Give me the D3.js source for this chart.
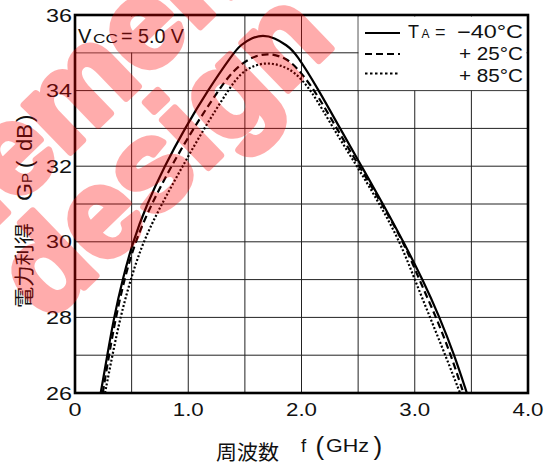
<!DOCTYPE html>
<html>
<head>
<meta charset="utf-8">
<script src="https://cdn.jsdelivr.net/npm/d3@7"></script>
<style>
  html, body { margin: 0; padding: 0; background: #fff; }
  svg { display: block; }
  text { font-family: "Liberation Sans", Arial, Helvetica, sans-serif; fill: #111; }
  text.cjk { font-family: "Noto Sans CJK JP", "Noto Sans CJK SC", sans-serif; }
  .mark text { fill: #ff0000; stroke: #ff0000; stroke-width: 7; stroke-linejoin: round; }
</style>
</head>
<body>
<svg id="chart" width="547" height="468"></svg>
<script>
// Power gain vs. frequency at three ambient temperatures (VCC = 5.0 V)
const freqTicks = [0, 1, 2, 3, 4];
const freqTickLabels = ["0", "1.0", "2.0", "3.0", "4.0"];
const gainTicks = [26, 28, 30, 32, 34, 36];
const freqGrid = [0.5, 1, 1.5, 2, 2.5, 3, 3.5];
const gainGrid = [27, 28, 29, 30, 31, 32, 33, 34, 35];

const tempLabels = ["−40°C", "+ 25°C", "+ 85°C"];

// [frequency GHz, gain dB]
const gainMinus40 = [
  [0.227, 26], [0.285, 27], [0.344, 28], [0.42, 29], [0.51, 30], [0.635, 31],
  [0.79, 32], [0.97, 33], [1.17, 34], [1.40, 35], [1.46, 35.2], [1.56, 35.4],
  [1.66, 35.47], [1.76, 35.4], [1.87, 35.2], [1.95, 35], [2.155, 34], [2.34, 33],
  [2.53, 32], [2.72, 31], [2.90, 30], [3.07, 29], [3.22, 28], [3.35, 27], [3.46, 26]
];
const gainPlus25 = [
  [0.245, 26], [0.30, 27], [0.36, 28], [0.435, 29], [0.53, 30], [0.675, 31],
  [0.85, 32], [1.045, 33], [1.265, 34], [1.40, 34.55], [1.55, 34.88], [1.70, 35.0],
  [1.85, 34.88], [1.95, 34.65], [2.12, 34], [2.31, 33], [2.51, 32], [2.71, 31],
  [2.90, 30], [3.04, 29], [3.19, 28], [3.32, 27], [3.43, 26]
];
const gainPlus85 = [
  [0.265, 26], [0.33, 27], [0.40, 28], [0.49, 29], [0.60, 30], [0.765, 31],
  [0.95, 32], [1.14, 33], [1.35, 34], [1.46, 34.46], [1.58, 34.67], [1.70, 34.74],
  [1.82, 34.67], [1.94, 34.5], [2.09, 34], [2.28, 33], [2.49, 32], [2.69, 31],
  [2.87, 30], [3.00, 29], [3.135, 28], [3.27, 27], [3.40, 26]
];

const seriesData = [gainMinus40, gainPlus25, gainPlus85];
const seriesDash = [null, "7,4", "2,2"];

const svg = d3.select("#chart");
const x = d3.scaleLinear().domain([0, 4]).range([75, 528]);
const y = d3.scaleLinear().domain([26, 36]).range([393, 15]);

function put(parent, str, o) {
  const t = parent.append("text")
    .attr("transform", `translate(${o.x},${o.y})` + (o.rotate ? ` rotate(${o.rotate})` : ""))
    .attr("font-size", o.size)
    .attr("text-anchor", o.anchor || "start")
    .text(str);
  if (o.cjk) t.attr("class", "cjk");
  if (o.bold) t.attr("font-weight", "bold");
  if (o.len) t.attr("textLength", o.len).attr("lengthAdjust", "spacingAndGlyphs");
  return t;
}

// grid
const grid = svg.append("g").attr("stroke", "#222").attr("stroke-width", 1);
grid.selectAll("line.v").data(freqGrid).join("line")
  .attr("x1", d => x(d)).attr("x2", d => x(d))
  .attr("y1", y(36)).attr("y2", y(26));
grid.selectAll("line.h").data(gainGrid).join("line")
  .attr("x1", x(0)).attr("x2", x(4))
  .attr("y1", d => y(d)).attr("y2", d => y(d));

// note boxes (VCC label and legend) blank out the grid behind them
svg.append("rect")
  .attr("x", x(0) + 1.5).attr("y", y(36) + 1.5)
  .attr("width", x(1) - x(0) - 2).attr("height", y(35) - y(36) - 2)
  .attr("fill", "#fff");
svg.append("rect")
  .attr("x", x(2.5) + 0.5).attr("y", y(36) + 1.5)
  .attr("width", x(4) - x(2.5) - 2).attr("height", y(34) - y(36) - 2)
  .attr("fill", "#fff");

// curves
svg.append("clipPath").attr("id", "plotClip").append("rect")
  .attr("x", x(0)).attr("y", y(36)).attr("width", x(4) - x(0)).attr("height", y(26) - y(36));
const line = d3.line().x(d => x(d[0])).y(d => y(d[1])).curve(d3.curveBasis);
svg.append("g").attr("clip-path", "url(#plotClip)")
  .selectAll("path").data(seriesData).join("path")
  .attr("d", d => line(d))
  .attr("fill", "none")
  .attr("stroke", "#000")
  .attr("stroke-width", 2.2)
  .attr("stroke-dasharray", (d, i) => seriesDash[i]);

// frame
svg.append("rect")
  .attr("x", x(0)).attr("y", y(36))
  .attr("width", x(4) - x(0)).attr("height", y(26) - y(36))
  .attr("fill", "none").attr("stroke", "#000").attr("stroke-width", 2.6);

// tick labels
const axes = svg.append("g");
gainTicks.forEach(v => put(axes, String(v), { x: 72, y: y(v) + 6.5, size: 18, anchor: "end", len: 26 }));
freqTicks.forEach((v, i) => put(axes, freqTickLabels[i], {
  x: x(v), y: 416, size: 18, anchor: "middle", len: i === 0 ? 13 : 31
}));

// VCC note
put(svg, "V", { x: 78, y: 43, size: 20 });
put(svg, "CC", { x: 93, y: 43, size: 12.5, len: 25 });
put(svg, "= 5.0 V", { x: 121, y: 43, size: 20, len: 63 });

// legend
const legY = [33, 54, 73.5];
const legBase = [38, 60, 81.5];
const leg = svg.append("g");
seriesData.forEach((s, i) => {
  leg.append("line")
    .attr("x1", 365).attr("x2", 400).attr("y1", legY[i]).attr("y2", legY[i])
    .attr("stroke", "#000").attr("stroke-width", 2.2)
    .attr("stroke-dasharray", i === 2 ? "2.5,2.5" : seriesDash[i]);
  put(leg, tempLabels[i], { x: 523, y: legBase[i], size: 18, anchor: "end", len: i === 0 ? 66 : 64 });
});
put(leg, "T", { x: 408, y: 38, size: 18 });
put(leg, "A", { x: 421.5, y: 38, size: 12 });
put(leg, "=", { x: 435, y: 38, size: 18 });

// x axis title
put(svg, "周波数", { x: 216, y: 459.5, size: 20.5, cjk: true, len: 63 });
put(svg, "f", { x: 301, y: 452, size: 18.5 });
put(svg, "(", { x: 315.5, y: 454.5, size: 26 });
put(svg, "GHz", { x: 326, y: 452, size: 18.5, len: 43 });
put(svg, ")", { x: 373.5, y: 454.5, size: 26 });

// y axis title (reads bottom to top)
put(svg, "電力利得", { x: 31.5, y: 308, size: 20.5, cjk: true, rotate: -90, len: 85 });
put(svg, "G", { x: 32, y: 201, size: 22, rotate: -90, len: 18 });
put(svg, "P", { x: 32, y: 183, size: 15, rotate: -90 });
put(svg, "(", { x: 32, y: 168, size: 22, rotate: -90 });
put(svg, "dB", { x: 32, y: 151, size: 22, rotate: -90, len: 27 });
put(svg, ")", { x: 32, y: 122, size: 22, rotate: -90 });

// site mark laid over the chart
const mark = svg.append("g").attr("class", "mark").attr("opacity", 0.32)
  .style("pointer-events", "none");
put(mark, "element", { x: -61, y: 279, size: 125, bold: true, rotate: -44 });
put(mark, "design", { x: 47, y: 323, size: 125, bold: true, rotate: -44 });
</script>
</body>
</html>
